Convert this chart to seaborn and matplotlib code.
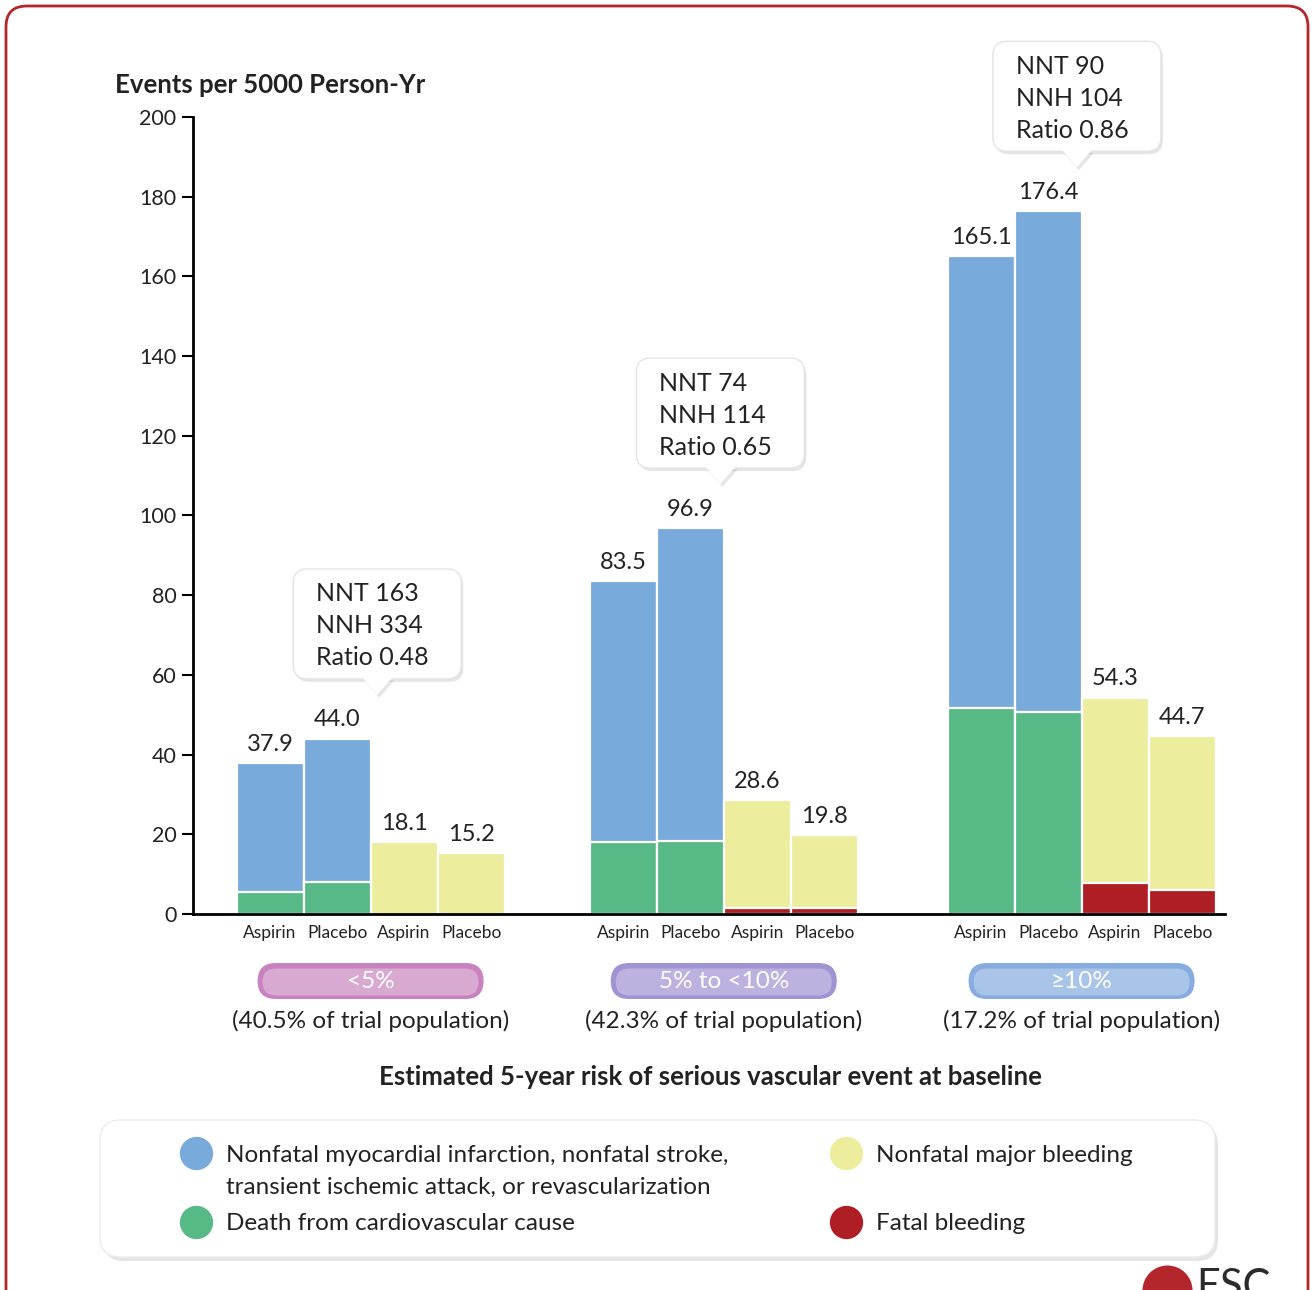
import numpy as np
import pandas as pd
import matplotlib
matplotlib.use("Agg")
import matplotlib.pyplot as plt
import seaborn as sns
from matplotlib.patches import FancyBboxPatch, Polygon
from matplotlib.lines import Line2D

# ---------------- data ----------------
groups = ["<5%", "5% to <10%", "\u226510%"]
population = ["(40.5% of trial population)", "(42.3% of trial population)", "(17.2% of trial population)"]
bar_labels = ["Aspirin", "Placebo", "Aspirin", "Placebo"]

efficacy_total_aspirin = [37.9, 83.5, 165.1]
efficacy_total_placebo = [44.0, 96.9, 176.4]
cv_death_aspirin = [5.5, 18.1, 51.7]
cv_death_placebo = [8.0, 18.3, 50.7]
bleeding_total_aspirin = [18.1, 28.6, 54.3]
bleeding_total_placebo = [15.2, 19.8, 44.7]
fatal_bleeding_aspirin = [0.0, 1.5, 7.8]
fatal_bleeding_placebo = [0.0, 1.5, 6.0]

nnt = [163, 74, 90]
nnh = [334, 114, 104]
ratio = [0.48, 0.65, 0.86]

yticks = [0, 20, 40, 60, 80, 100, 120, 140, 160, 180, 200]

legend_labels = [
    "Nonfatal myocardial infarction, nonfatal stroke,\ntransient ischemic attack, or revascularization",
    "Death from cardiovascular cause",
    "Nonfatal major bleeding",
    "Fatal bleeding",
]

# ---------------- style ----------------
BLUE = "#78AADB"
GREEN = "#56B986"
YELLOW = "#EDED9E"
RED = "#AF1E24"
TXT = "#222222"

W, H = 1313, 1290
sns.set_theme(style="white")
plt.rcParams["font.family"] = ["Lato", "DejaVu Sans"]

fig = plt.figure(figsize=(W / 100, H / 100), dpi=100)
fig.patch.set_facecolor("white")


def fx(x):
    return x / W


def fy(y):
    return 1 - y / H


ax = fig.add_axes([fx(193), fy(914), (1225 - 193) / W, (914 - 117) / H])

# bar positions (layout)
group_start = [1.15, 6.42, 11.76]
positions = [[s + j for j in range(4)] for s in group_start]
callout_offset = [0.6, 0.45, 0.43]

top_rows, bottom_rows = [], []
for g in range(3):
    p = positions[g]
    top_rows += [
        (p[0], efficacy_total_aspirin[g], "eff"),
        (p[1], efficacy_total_placebo[g], "eff"),
        (p[2], bleeding_total_aspirin[g], "bleed"),
        (p[3], bleeding_total_placebo[g], "bleed"),
    ]
    bottom_rows += [
        (p[0], cv_death_aspirin[g], "cv"),
        (p[1], cv_death_placebo[g], "cv"),
        (p[2], fatal_bleeding_aspirin[g], "fatal"),
        (p[3], fatal_bleeding_placebo[g], "fatal"),
    ]
top_df = pd.DataFrame(top_rows, columns=["pos", "value", "kind"])
bot_df = pd.DataFrame(bottom_rows, columns=["pos", "value", "kind"])
bot_df = bot_df[bot_df["value"] > 0]

sns.barplot(data=top_df, x="pos", y="value", hue="kind", native_scale=True, dodge=False,
            palette={"eff": BLUE, "bleed": YELLOW}, width=1.0, edgecolor="white",
            linewidth=1.6, errorbar=None, legend=False, saturation=1, ax=ax)
sns.barplot(data=bot_df, x="pos", y="value", hue="kind", native_scale=True, dodge=False,
            palette={"cv": GREEN, "fatal": RED}, width=1.0, edgecolor="white",
            linewidth=1.6, errorbar=None, legend=False, saturation=1, ax=ax)

ax.set_xlim(0, 15.4)
ax.set_ylim(0, 200)
ax.set_xlabel("")
ax.set_ylabel("")
for s in ["top", "right"]:
    ax.spines[s].set_visible(False)
ax.spines["left"].set_color("black")
ax.spines["left"].set_linewidth(2)
ax.spines["bottom"].set_color("black")
ax.spines["bottom"].set_linewidth(2)
ax.spines["bottom"].set_zorder(5)

all_pos = [x for p in positions for x in p]
ax.set_xticks(all_pos)
ax.set_xticklabels(bar_labels * 3, fontsize=12.5, color=TXT)
ax.tick_params(axis="x", length=0, pad=8)
ax.set_yticks(yticks)
ax.set_yticklabels([str(t) for t in yticks], fontsize=15.5, color=TXT)
ax.tick_params(axis="y", direction="out", length=8, width=1.5, color="black", pad=4, left=True)

# value labels
for _, r in top_df.iterrows():
    ax.annotate(f"{r['value']:.1f}", (r["pos"], r["value"]), xytext=(0, 6),
                textcoords="offset points", ha="center", va="bottom",
                fontsize=17, color=TXT, annotation_clip=False)

fig.text(fx(115), fy(85), "Events per 5000 Person-Yr", fontsize=18.5, fontweight="bold",
         color=TXT, ha="left", va="center")

inv = fig.transFigure.inverted()


def to_fig(xd, yd):
    return inv.transform(ax.transData.transform((xd, yd)))


# callout boxes
bw, bh = 168, 110
for g in range(3):
    xc = positions[g][1] + callout_offset[g]
    ybot = efficacy_total_placebo[g] + 15
    cx, by = to_fig(xc, ybot)
    x0 = cx - bw / 2 / W
    for dx, dy, fc, a, ec in [(2, -3, "black", 0.10, "none"), (0, 0, "white", 1, "#e4e4e4")]:
        fig.add_artist(FancyBboxPatch((x0 + dx / W, by + dy / H), bw / W, bh / H,
                                      boxstyle="round,pad=0,rounding_size=0.011",
                                      transform=fig.transFigure, fc=fc, ec=ec, lw=1,
                                      alpha=a, zorder=10))
        fig.add_artist(Polygon([(cx - 15 / W + dx / W, by + 1.5 / H + dy / H),
                                (cx + 15 / W + dx / W, by + 1.5 / H + dy / H),
                                (cx + dx / W, by - 16 / H + dy / H)],
                               closed=True, transform=fig.transFigure, fc=fc,
                               ec="none", alpha=a, zorder=10.5))
    lines = [f"NNT {nnt[g]}", f"NNH {nnh[g]}", f"Ratio {ratio[g]:.2f}"]
    top = by + bh / H
    for i, t in enumerate(lines):
        fig.text(x0 + 23 / W, top - (25 + 32 * i) / H, t, fontsize=18, color=TXT,
                 ha="left", va="center", zorder=12)

# group pills and population text
pill_outer = ["#C882BF", "#A193D1", "#88ACE0"]
pill_inner = ["#D8AAD2", "#BDB2DF", "#A9C4E9"]
for g in range(3):
    gc = group_start[g] + 1.5
    cx, _ = to_fig(gc, 0)
    pw, ph = 226, 36
    fig.add_artist(FancyBboxPatch((cx - pw / 2 / W, fy(981) - ph / 2 / H), pw / W, ph / H,
                                  boxstyle="round,pad=0,rounding_size=0.0139",
                                  transform=fig.transFigure, fc=pill_outer[g], ec="none"))
    iw, ih = pw - 10, ph - 9
    fig.add_artist(FancyBboxPatch((cx - iw / 2 / W, fy(981) - ih / 2 / H - 1 / H), iw / W, ih / H,
                                  boxstyle="round,pad=0,rounding_size=0.0104",
                                  transform=fig.transFigure, fc=pill_inner[g], ec="none"))
    fig.text(cx, fy(981), groups[g], fontsize=17.5, color="white", ha="center", va="center")
    fig.text(cx, fy(1021), population[g], fontsize=17.5, color=TXT, ha="center", va="center")

fig.text(fx(710), fy(1077), "Estimated 5-year risk of serious vascular event at baseline",
         fontsize=18.5, fontweight="bold", color=TXT, ha="center", va="center")

# legend box
lx0, lx1, ly0, ly1 = 100, 1215, 1120, 1257
for dx, dy, fc, a, ec in [(3, -4, "black", 0.10, "none"), (0, 0, "white", 1, "#ececec")]:
    fig.add_artist(FancyBboxPatch((fx(lx0) + dx / W, fy(ly1) + dy / H), (lx1 - lx0) / W,
                                  (ly1 - ly0) / H, boxstyle="round,pad=0,rounding_size=0.016",
                                  transform=fig.transFigure, fc=fc, ec=ec, lw=1, alpha=a))
legend_colors = [BLUE, GREEN, YELLOW, RED]
legend_xy = [(196, 1153), (196, 1222), (846, 1153), (846, 1222)]
for lab, col, (x, y) in zip(legend_labels, legend_colors, legend_xy):
    fig.add_artist(Line2D([fx(x)], [fy(y)], marker="o", markersize=24, color=col,
                          markeredgecolor="none", transform=fig.transFigure))
    for k, line in enumerate(lab.split("\n")):
        fig.text(fx(x + 30), fy(y + 32 * k), line, fontsize=17.5, color=TXT,
                 ha="left", va="center_baseline")

# outer frame
fig.add_artist(FancyBboxPatch((fx(6), fy(1330)), 1302 / W, (1330 - 6) / H,
                              boxstyle="round,pad=0,rounding_size=0.016",
                              transform=fig.transFigure, fc="none", ec="#B3262B", lw=2))

# ESC logo (cropped at the bottom edge, as in the reference)
fig.add_artist(Line2D([fx(1167)], [fy(1290)], marker="o", markersize=36, color="#B3262B",
                      markeredgecolor="none", transform=fig.transFigure))
fig.text(fx(1196), fy(1268), "ESC", fontsize=30, color="#2b2b2b", ha="left", va="top")

fig.savefig("out.png", dpi=100, facecolor="white")
